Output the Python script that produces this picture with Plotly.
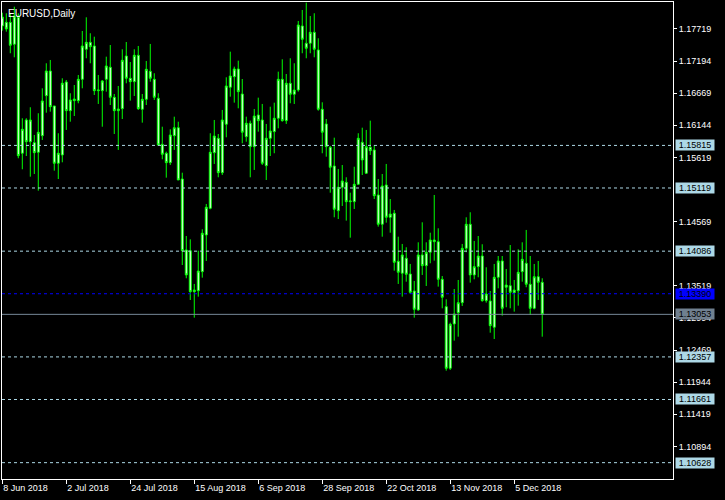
import plotly.graph_objects as go
import pandas as pd

# ---------------- data ----------------
dates = [d.strftime('%Y-%m-%d') for d in pd.bdate_range('2018-06-08', periods=136)]

opens = [1.17768, 1.17828, 1.17828, 1.17469, 1.17910, 1.15687, 1.16231, 1.15876, 1.15860, 1.15703,
         1.15974, 1.16628, 1.17032, 1.16460, 1.15523, 1.15659, 1.16852, 1.16383, 1.16547, 1.16547,
         1.16896, 1.17387, 1.17501, 1.17441, 1.16710, 1.16710, 1.16896, 1.17093, 1.16602, 1.16383,
         1.16416, 1.17277, 1.16913, 1.16857, 1.17289, 1.16406, 1.16569, 1.17027, 1.16896, 1.16586,
         1.15834, 1.15687, 1.15533, 1.15974, 1.16105, 1.15266, 1.14106, 1.14094, 1.13424, 1.13440,
         1.13751, 1.14351, 1.14787, 1.15696, 1.15932, 1.15369, 1.16161, 1.16766, 1.16939, 1.17065,
         1.16656, 1.15958, 1.16177, 1.15795, 1.16313, 1.16231, 1.15484, 1.15932, 1.16040, 1.16259,
         1.16896, 1.16220, 1.16831, 1.16651, 1.16721, 1.17768, 1.17485, 1.17485, 1.17665, 1.17376,
         1.16406, 1.16166, 1.15785, 1.15479, 1.14748, 1.15131, 1.15212, 1.14895, 1.14895, 1.15180,
         1.15866, 1.15360, 1.15785, 1.15741, 1.15005, 1.14526, 1.15168, 1.14640, 1.14706, 1.13921,
         1.13725, 1.13970, 1.13713, 1.13435, 1.13125, 1.14024, 1.13849, 1.14068, 1.14269, 1.14241,
         1.13626, 1.13179, 1.12171, 1.12896, 1.13080, 1.13244, 1.14133, 1.14526, 1.13697, 1.13833,
         1.14007, 1.13277, 1.13272, 1.12842, 1.13659, 1.13926, 1.13496, 1.13522, 1.13407, 1.13440,
         1.13751, 1.13888, 1.13545, 1.13152, 1.13669, 1.13577]

highs = [1.17985, 1.17976, 1.17976, 1.18083, 1.17976, 1.16259, 1.16259, 1.16439, 1.15986, 1.16341,
         1.16749, 1.17158, 1.17212, 1.16460, 1.16014, 1.16913, 1.16885, 1.16668, 1.16803, 1.16967,
         1.17686, 1.17910, 1.17649, 1.17593, 1.16967, 1.16885, 1.17266, 1.17457, 1.16656, 1.16787,
         1.17387, 1.17506, 1.17179, 1.17387, 1.17441, 1.16656, 1.17196, 1.17474, 1.16995, 1.16668,
         1.16121, 1.15713, 1.16079, 1.16285, 1.16203, 1.15369, 1.14334, 1.14280, 1.13550, 1.14094,
         1.14444, 1.14858, 1.16014, 1.16231, 1.16002, 1.16395, 1.16929, 1.17348, 1.17103, 1.17201,
         1.16901, 1.16285, 1.16220, 1.16411, 1.16596, 1.16493, 1.16166, 1.16448, 1.16514, 1.17021,
         1.17223, 1.16983, 1.17240, 1.17158, 1.17850, 1.18029, 1.18149, 1.17931, 1.17976, 1.17567,
         1.16520, 1.16247, 1.15806, 1.15942, 1.15430, 1.15495, 1.15294, 1.15042, 1.15467, 1.16014,
         1.16105, 1.16068, 1.16220, 1.15822, 1.15266, 1.15348, 1.15512, 1.14939, 1.14760, 1.14323,
         1.14204, 1.14150, 1.13877, 1.13599, 1.14231, 1.14558, 1.14231, 1.14388, 1.15005, 1.14460,
         1.13680, 1.13299, 1.12917, 1.13468, 1.13615, 1.14204, 1.14640, 1.14722, 1.14253, 1.14334,
         1.14199, 1.13823, 1.13435, 1.13877, 1.14007, 1.14007, 1.13795, 1.14187, 1.13615, 1.14117,
         1.14231, 1.14433, 1.14007, 1.13877, 1.13926, 1.13643]

lows = [1.17691, 1.17675, 1.17322, 1.17256, 1.15605, 1.15425, 1.15642, 1.15304, 1.15348, 1.15075,
        1.15904, 1.16350, 1.16367, 1.15402, 1.15266, 1.15539, 1.16068, 1.16203, 1.16296, 1.16504,
        1.16749, 1.17240, 1.17158, 1.16640, 1.16493, 1.16121, 1.16694, 1.16476, 1.16002, 1.15741,
        1.16247, 1.16831, 1.16547, 1.16623, 1.16395, 1.16187, 1.16476, 1.16857, 1.16558, 1.15806,
        1.15588, 1.15288, 1.15495, 1.15741, 1.15250, 1.13860, 1.13643, 1.13288, 1.12999, 1.13342,
        1.13653, 1.13926, 1.14771, 1.15512, 1.15294, 1.15332, 1.15948, 1.16612, 1.16514, 1.16422,
        1.15850, 1.15876, 1.15294, 1.15414, 1.16040, 1.15495, 1.15250, 1.15642, 1.15687, 1.16095,
        1.16203, 1.16166, 1.16504, 1.16493, 1.16694, 1.17322, 1.17240, 1.17322, 1.17256, 1.16383,
        1.15687, 1.15631, 1.15042, 1.14640, 1.14612, 1.14825, 1.14585, 1.14307, 1.14776, 1.15168,
        1.15332, 1.15348, 1.15659, 1.14939, 1.14487, 1.14323, 1.14552, 1.14388, 1.13767, 1.13550,
        1.13342, 1.13587, 1.13386, 1.12999, 1.13113, 1.13697, 1.13517, 1.13888, 1.13931, 1.13506,
        1.13152, 1.12132, 1.12144, 1.12623, 1.12688, 1.13190, 1.14068, 1.13571, 1.13626, 1.13659,
        1.13260, 1.13244, 1.12753, 1.12650, 1.13479, 1.13031, 1.13169, 1.13152, 1.13097, 1.13195,
        1.13587, 1.13496, 1.13043, 1.13136, 1.13288, 1.12688]

closes = [1.17915, 1.17719, 1.17452, 1.17931, 1.15647, 1.16079, 1.15876, 1.16231, 1.15696, 1.16030,
          1.16542, 1.17032, 1.16448, 1.15523, 1.15687, 1.16831, 1.16383, 1.16558, 1.16574, 1.16896,
          1.17441, 1.17501, 1.17429, 1.16710, 1.16721, 1.16869, 1.17114, 1.16602, 1.16383, 1.16411,
          1.17207, 1.16913, 1.16857, 1.17289, 1.16416, 1.16569, 1.17060, 1.16913, 1.16602, 1.15822,
          1.15670, 1.15533, 1.15986, 1.16105, 1.15250, 1.14094, 1.13697, 1.13424, 1.13452, 1.13762,
          1.14379, 1.14804, 1.15703, 1.15969, 1.15369, 1.16231, 1.16787, 1.16950, 1.17065, 1.16694,
          1.16030, 1.16177, 1.15795, 1.16296, 1.16220, 1.15523, 1.15932, 1.16051, 1.16259, 1.16896,
          1.16220, 1.16831, 1.16651, 1.16721, 1.17784, 1.17550, 1.17403, 1.17665, 1.17387, 1.16406,
          1.16030, 1.15795, 1.15458, 1.14771, 1.15131, 1.15234, 1.14895, 1.14907, 1.15180, 1.15932,
          1.15577, 1.15795, 1.15729, 1.14993, 1.14526, 1.15152, 1.14640, 1.14694, 1.13904, 1.13741,
          1.14024, 1.13708, 1.13414, 1.13136, 1.14024, 1.13849, 1.14068, 1.14269, 1.14241, 1.13626,
          1.13332, 1.12171, 1.12891, 1.13059, 1.13244, 1.14133, 1.14526, 1.13697, 1.13833, 1.14007,
          1.13277, 1.13386, 1.12868, 1.13659, 1.13926, 1.13152, 1.13533, 1.13414, 1.13452, 1.13741,
          1.13953, 1.13545, 1.13152, 1.13669, 1.13577, 1.13053]

tick_dates = ['2018-06-08', '2018-07-02', '2018-07-24', '2018-08-15', '2018-09-06',
              '2018-09-28', '2018-10-22', '2018-11-13', '2018-12-05']
tick_labels = ['8 Jun 2018', '2 Jul 2018', '24 Jul 2018', '15 Aug 2018', '6 Sep 2018',
               '28 Sep 2018', '22 Oct 2018', '13 Nov 2018', '5 Dec 2018']

price_ticks = [1.17719, 1.17194, 1.16669, 1.16144, 1.15619, 1.14569,
               1.13519, 1.12994, 1.12469, 1.11944, 1.11419, 1.10894]

level_lines = [1.15815, 1.15119, 1.14086, 1.12357, 1.11661, 1.10628]
blue_level = 1.13390
bid_level = 1.13053

symbol_title = 'EURUSD,Daily'

# ---------------- styles ----------------
FONT = 'Liberation Sans'
LIME = '#00FF00'
LIGHTBLUE = '#ADD8E6'
SLATE = '#778899'

fig = go.Figure()
fig.add_trace(go.Candlestick(
    x=dates, open=opens, high=highs, low=lows, close=closes,
    increasing=dict(line=dict(color=LIME, width=1), fillcolor='#FFFFFF'),
    decreasing=dict(line=dict(color=LIME, width=1), fillcolor='#FFFFFF'),
    whiskerwidth=0, showlegend=False, hoverinfo='skip'))

shapes = []
for lv in level_lines:
    shapes.append(dict(type='line', xref='paper', x0=0, x1=1, yref='y', y0=lv, y1=lv,
                       line=dict(color=LIGHTBLUE, width=1, dash='3px,3px'), layer='above'))
shapes.append(dict(type='line', xref='paper', x0=0, x1=1, yref='y', y0=blue_level, y1=blue_level,
                   line=dict(color='#0000FF', width=1, dash='3px,3px'), layer='above'))
shapes.append(dict(type='line', xref='paper', x0=0, x1=1, yref='y', y0=bid_level, y1=bid_level,
                   line=dict(color=SLATE, width=1), layer='above'))

annotations = []
def level_box(value, bg):
    return dict(xref='paper', x=1.003, xanchor='left', yref='y', y=value, yanchor='middle',
                text=f'{value:.5f}', showarrow=False, bgcolor=bg,
                font=dict(family=FONT, size=9, color='#000000'),
                width=38, height=10, borderpad=0, align='center')

for lv in level_lines:
    annotations.append(level_box(lv, LIGHTBLUE))
annotations.append(level_box(blue_level, '#0000FF'))
annotations.append(level_box(bid_level, '#708090'))
annotations.append(dict(xref='paper', x=0.006, xanchor='left', yref='paper', y=0.992, yanchor='top',
                        text=symbol_title, showarrow=False,
                        font=dict(family=FONT, size=10, color='#FFFFFF')))

fig.update_layout(
    width=725, height=500,
    paper_bgcolor='#000000', plot_bgcolor='#000000',
    margin=dict(l=2, r=52, t=2, b=21),
    shapes=shapes, annotations=annotations,
    font=dict(family=FONT, size=9, color='#FFFFFF'),
    xaxis=dict(type='category', range=[-0.075, 167.7], tickmode='array',
               tickvals=tick_dates, ticktext=tick_labels, ticks='outside', ticklen=4,
               tickcolor='#FFFFFF', ticklabelposition='outside right',
               showline=True, linecolor='#FFFFFF', linewidth=1, mirror=True,
               showgrid=False, zeroline=False, rangeslider=dict(visible=False),
               tickfont=dict(family=FONT, size=9, color='#FFFFFF')),
    yaxis=dict(side='right', range=[1.10361, 1.18160], tickmode='array',
               tickvals=price_ticks, ticktext=[f'{v:.5f}' for v in price_ticks],
               ticks='outside', ticklen=3, tickcolor='#FFFFFF',
               showline=True, linecolor='#FFFFFF', linewidth=1, mirror=True,
               showgrid=False, zeroline=False,
               tickfont=dict(family=FONT, size=9, color='#FFFFFF')),
)

fig.write_html('out.html', config={'displayModeBar': False},
               post_script="document.body.style.margin='0';document.body.style.overflow='hidden';")
